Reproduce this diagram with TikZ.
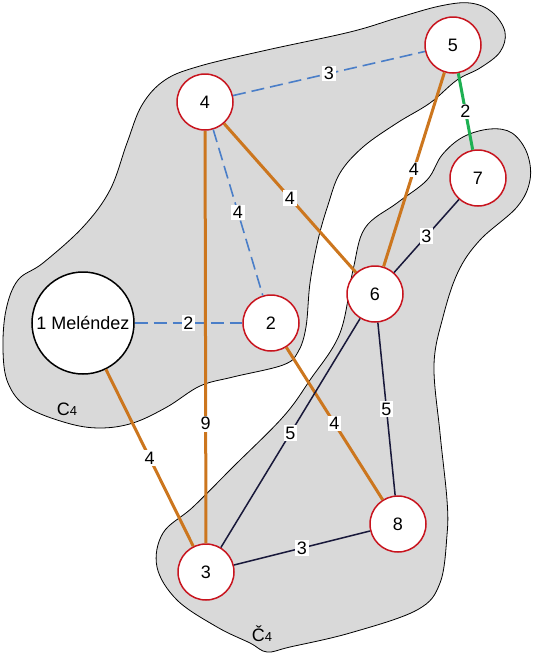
\documentclass[tikz,border=0pt]{standalone}
\usepackage{fontspec}
\setmainfont{Liberation Sans}
\usepackage{tikz}
\definecolor{regiongray}{RGB}{217,217,217}
\definecolor{edgeorange}{RGB}{204,118,30}
\definecolor{edgeblue}{RGB}{74,126,200}
\definecolor{edgegreen}{RGB}{30,176,82}
\definecolor{edgenavy}{RGB}{24,24,58}
\definecolor{vertexred}{RGB}{200,20,30}

\begin{document}
\begin{tikzpicture}[x=0.5pt, y=-0.5pt, font=\fontsize{9}{10}\selectfont,
  region/.style={fill=regiongray, draw=black, line width=0.4pt},
  vertex/.style={circle, draw=vertexred, line width=0.75pt, fill=white, minimum size=28pt, inner sep=0pt},
  bigvertex/.style={circle, draw=black, line width=0.75pt, fill=white, minimum size=51pt, inner sep=0pt},
  orangeedge/.style={draw=edgeorange, line width=1.5pt},
  greenedge/.style={draw=edgegreen, line width=1.5pt},
  navyedge/.style={draw=edgenavy, line width=0.75pt},
  blueedge/.style={draw=edgeblue, line width=0.8pt, dash pattern=on 6.5pt off 3pt},
  wlabel/.style={fill=white, inner sep=0.8pt, midway}]
\useasboundingbox (0,0) rectangle (535,654);
\draw[region] plot[smooth cycle, tension=0.6] coordinates {
  (43,263) (83,227) (110,190) (127,143) (142,105) (165,80) (200,66) (267,50) (350,32)
  (397,18) (440,6) (470,3) (492,12) (505,32) (500,52) (480,68) (457,80) (430,103)
  (397,123) (363,147) (340,173) (328,205) (318,240) (310,283) (306,327) (298,352)
  (283,365) (233,377) (200,386) (167,407) (133,423) (100,428) (67,423) (27,407)
  (8,383) (3,350) (6,310) (18,280)};
\draw[region] plot[smooth cycle, tension=0.6] coordinates {
  (463,137) (490,129) (512,133) (527,153) (530,180) (517,207) (480,240) (458,272)
  (443,317) (434,365) (440,433) (447,500) (447,535) (440,583) (417,610) (350,633)
  (290,647) (267,652) (250,643) (217,627) (177,600) (157,567) (163,533) (193,507)
  (233,467) (283,417) (310,380) (340,333) (353,270) (365,228) (397,203) (427,180)
  (442,155)};
\node[bigvertex] (v1) at (83,323) {1 Meléndez};
\node[vertex] (v2) at (271,323) {2};
\node[vertex] (v3) at (206,572) {3};
\node[vertex] (v4) at (205,102) {4};
\node[vertex] (v5) at (453,45) {5};
\node[vertex] (v6) at (375,294) {6};
\node[vertex] (v7) at (478,178) {7};
\node[vertex] (v8) at (398,524) {8};
\draw[blueedge] (v4) -- node[wlabel] {3} (v5);
\draw[blueedge] (v4) -- node[wlabel] {4} (v2);
\draw[blueedge] (v1) -- node[wlabel] {2} (v2);
\draw[greenedge] (v5) -- node[wlabel] {2} (v7);
\draw[orangeedge] (v4) -- node[wlabel] {4} (v6);
\draw[orangeedge] (v5) -- node[wlabel] {4} (v6);
\draw[orangeedge] (v4) -- node[wlabel, pos=0.71] {9} (v3);
\draw[orangeedge] (v1) -- node[wlabel] {4} (v3);
\draw[orangeedge] (v2) -- node[wlabel] {4} (v8);
\draw[navyedge] (v7) -- node[wlabel] {3} (v6);
\draw[navyedge] (v6) -- node[wlabel] {5} (v3);
\draw[navyedge] (v6) -- node[wlabel] {5} (v8);
\draw[navyedge] (v3) -- node[wlabel] {3} (v8);
\node (c4) at (67,409) {C{\fontsize{6.5}{7}\selectfont 4}};
\node (cc4) at (262,634) {Č{\fontsize{6.5}{7}\selectfont 4}};
\end{tikzpicture}
\end{document}
